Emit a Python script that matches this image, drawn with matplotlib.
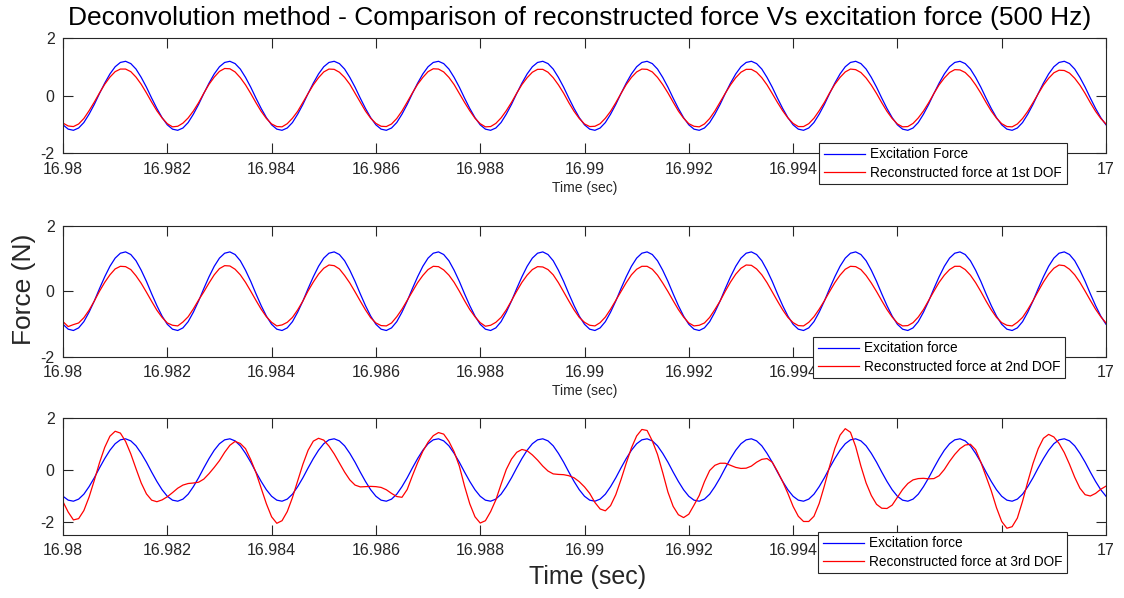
import numpy as np
import matplotlib
matplotlib.use("Agg")
import matplotlib.pyplot as plt

plt.rcParams['font.family'] = ['Liberation Sans', 'DejaVu Sans']
plt.rcParams['axes.unicode_minus'] = False

# sampled every 0.1 ms over the last 20 ms of the record
t = np.linspace(16.98, 17.0, 201)

# excitation force (N), one row per 2 ms cycle
excitation = (
    [-1.01, -1.16, -1.20, -1.12, -0.93, -0.64, -0.30, 0.08, 0.44, 0.76, 1.01, 1.16, 1.20, 1.12, 0.93, 0.64, 0.30, -0.08, -0.44, -0.76]
    + [-1.01, -1.16, -1.20, -1.12, -0.93, -0.64, -0.30, 0.08, 0.44, 0.76, 1.01, 1.16, 1.20, 1.12, 0.93, 0.64, 0.30, -0.08, -0.44, -0.76]
    + [-1.01, -1.16, -1.20, -1.12, -0.93, -0.64, -0.30, 0.08, 0.44, 0.76, 1.01, 1.16, 1.20, 1.12, 0.93, 0.64, 0.30, -0.08, -0.44, -0.76]
    + [-1.01, -1.16, -1.20, -1.12, -0.93, -0.64, -0.30, 0.08, 0.44, 0.76, 1.01, 1.16, 1.20, 1.12, 0.93, 0.64, 0.30, -0.08, -0.44, -0.76]
    + [-1.01, -1.16, -1.20, -1.12, -0.93, -0.64, -0.30, 0.08, 0.44, 0.76, 1.01, 1.16, 1.20, 1.12, 0.93, 0.64, 0.30, -0.08, -0.44, -0.76]
    + [-1.01, -1.16, -1.20, -1.12, -0.93, -0.64, -0.30, 0.08, 0.44, 0.76, 1.01, 1.16, 1.20, 1.12, 0.93, 0.64, 0.30, -0.08, -0.44, -0.76]
    + [-1.01, -1.16, -1.20, -1.12, -0.93, -0.64, -0.30, 0.08, 0.44, 0.76, 1.01, 1.16, 1.20, 1.12, 0.93, 0.64, 0.30, -0.08, -0.44, -0.76]
    + [-1.01, -1.16, -1.20, -1.12, -0.93, -0.64, -0.30, 0.08, 0.44, 0.76, 1.01, 1.16, 1.20, 1.12, 0.93, 0.64, 0.30, -0.08, -0.44, -0.76]
    + [-1.01, -1.16, -1.20, -1.12, -0.93, -0.64, -0.30, 0.08, 0.44, 0.76, 1.01, 1.16, 1.20, 1.12, 0.93, 0.64, 0.30, -0.08, -0.44, -0.76]
    + [-1.01, -1.16, -1.20, -1.12, -0.93, -0.64, -0.30, 0.08, 0.44, 0.76, 1.01, 1.16, 1.20, 1.12, 0.93, 0.64, 0.30, -0.08, -0.44, -0.76]
    + [-1.01]
)

# reconstructed force at 1st DOF (N)
recon_dof1 = (
    [-0.95, -1.05, -1.07, -0.98, -0.79, -0.52, -0.22, 0.10, 0.40, 0.65, 0.84, 0.93, 0.93, 0.84, 0.65, 0.40, 0.10, -0.22, -0.52, -0.77]
    + [-0.97, -1.08, -1.06, -0.95, -0.77, -0.53, -0.24, 0.09, 0.40, 0.65, 0.85, 0.95, 0.94, 0.83, 0.63, 0.38, 0.08, -0.24, -0.54, -0.79]
    + [-0.98, -1.07, -1.08, -0.97, -0.78, -0.54, -0.23, 0.08, 0.38, 0.63, 0.83, 0.93, 0.92, 0.82, 0.64, 0.40, 0.09, -0.22, -0.53, -0.78]
    + [-0.96, -1.06, -1.07, -0.98, -0.79, -0.53, -0.22, 0.10, 0.40, 0.64, 0.84, 0.94, 0.93, 0.83, 0.64, 0.39, 0.08, -0.23, -0.52, -0.78]
    + [-0.97, -1.08, -1.07, -0.96, -0.77, -0.52, -0.23, 0.09, 0.39, 0.63, 0.82, 0.92, 0.92, 0.82, 0.63, 0.38, 0.09, -0.24, -0.54, -0.79]
    + [-0.98, -1.07, -1.06, -0.97, -0.78, -0.54, -0.24, 0.08, 0.39, 0.64, 0.83, 0.93, 0.92, 0.83, 0.64, 0.39, 0.10, -0.22, -0.53, -0.78]
    + [-0.97, -1.06, -1.08, -0.98, -0.79, -0.53, -0.22, 0.09, 0.38, 0.63, 0.82, 0.92, 0.92, 0.82, 0.63, 0.38, 0.08, -0.23, -0.52, -0.77]
    + [-0.96, -1.07, -1.07, -0.97, -0.78, -0.52, -0.23, 0.10, 0.40, 0.64, 0.83, 0.93, 0.91, 0.81, 0.62, 0.37, 0.08, -0.24, -0.54, -0.79]
    + [-0.98, -1.08, -1.07, -0.96, -0.77, -0.53, -0.24, 0.08, 0.38, 0.62, 0.81, 0.91, 0.90, 0.81, 0.63, 0.38, 0.09, -0.23, -0.53, -0.78]
    + [-0.97, -1.07, -1.08, -0.98, -0.79, -0.54, -0.24, 0.07, 0.37, 0.61, 0.80, 0.89, 0.88, 0.79, 0.61, 0.37, 0.08, -0.24, -0.54, -0.79]
    + [-0.98]
)

# reconstructed force at 2nd DOF (N)
recon_dof2 = (
    [-0.93, -1.08, -1.02, -0.97, -0.81, -0.58, -0.30, 0.00, 0.27, 0.50, 0.68, 0.76, 0.75, 0.66, 0.47, 0.24, -0.03, -0.31, -0.58, -0.80]
    + [-0.97, -1.04, -1.06, -0.94, -0.78, -0.54, -0.27, -0.02, 0.25, 0.50, 0.69, 0.78, 0.77, 0.67, 0.50, 0.27, 0.00, -0.28, -0.55, -0.78]
    + [-0.95, -1.06, -1.03, -0.95, -0.80, -0.57, -0.30, 0.01, 0.28, 0.52, 0.70, 0.80, 0.78, 0.68, 0.48, 0.25, -0.02, -0.30, -0.57, -0.81]
    + [-0.97, -1.05, -1.06, -0.97, -0.78, -0.55, -0.28, -0.01, 0.26, 0.48, 0.66, 0.76, 0.75, 0.65, 0.49, 0.27, 0.00, -0.29, -0.56, -0.78]
    + [-0.96, -1.07, -1.04, -0.95, -0.80, -0.57, -0.29, 0.00, 0.27, 0.49, 0.66, 0.75, 0.74, 0.66, 0.50, 0.26, -0.02, -0.30, -0.57, -0.80]
    + [-0.95, -1.04, -1.06, -0.96, -0.79, -0.55, -0.28, -0.01, 0.26, 0.50, 0.67, 0.76, 0.76, 0.67, 0.49, 0.25, -0.01, -0.29, -0.56, -0.79]
    + [-0.97, -1.06, -1.04, -0.97, -0.80, -0.56, -0.30, 0.00, 0.28, 0.52, 0.70, 0.80, 0.79, 0.68, 0.50, 0.26, -0.02, -0.30, -0.57, -0.80]
    + [-0.96, -1.05, -1.06, -0.95, -0.78, -0.55, -0.29, -0.01, 0.26, 0.49, 0.67, 0.76, 0.75, 0.66, 0.48, 0.25, -0.01, -0.29, -0.56, -0.79]
    + [-0.97, -1.06, -1.05, -0.96, -0.79, -0.56, -0.28, 0.00, 0.27, 0.49, 0.66, 0.76, 0.76, 0.66, 0.49, 0.26, -0.01, -0.30, -0.57, -0.80]
    + [-0.96, -1.04, -1.06, -0.95, -0.80, -0.56, -0.29, 0.00, 0.28, 0.52, 0.70, 0.80, 0.78, 0.67, 0.50, 0.27, 0.00, -0.28, -0.55, -0.78]
    + [-0.97]
)

# reconstructed force at 3rd DOF (N)
recon_dof3 = (
    [-1.22, -1.62, -1.92, -1.87, -1.56, -1.04, -0.40, 0.28, 0.87, 1.30, 1.49, 1.42, 1.10, 0.62, 0.05, -0.50, -0.92, -1.16, -1.22, -1.15]
    + [-1.03, -0.87, -0.70, -0.58, -0.52, -0.50, -0.47, -0.35, -0.14, 0.10, 0.36, 0.68, 0.95, 1.10, 1.02, 0.82, 0.40, -0.10, -0.70, -1.30]
    + [-1.80, -2.05, -1.95, -1.60, -1.06, -0.42, 0.22, 0.76, 1.11, 1.22, 1.15, 0.92, 0.62, 0.27, -0.08, -0.38, -0.58, -0.65, -0.64, -0.63]
    + [-0.64, -0.67, -0.76, -0.90, -1.02, -1.05, -0.75, -0.22, 0.28, 0.72, 1.07, 1.32, 1.44, 1.38, 1.10, 0.70, 0.15, -0.62, -1.30, -1.80]
    + [-2.04, -1.95, -1.60, -1.15, -0.55, 0.02, 0.42, 0.68, 0.79, 0.74, 0.58, 0.38, 0.15, -0.04, -0.15, -0.17, -0.18, -0.22, -0.30, -0.45]
    + [-0.65, -0.90, -1.25, -1.50, -1.57, -1.37, -0.95, -0.37, 0.26, 0.85, 1.31, 1.56, 1.52, 1.12, 0.60, -0.10, -0.85, -1.40, -1.72, -1.83]
    + [-1.70, -1.35, -0.98, -0.45, -0.02, 0.18, 0.26, 0.26, 0.18, 0.10, 0.06, 0.07, 0.15, 0.30, 0.41, 0.44, 0.30, -0.05, -0.45, -0.90]
    + [-1.40, -1.78, -1.98, -1.98, -1.78, -1.29, -0.61, 0.14, 0.83, 1.34, 1.59, 1.45, 0.90, 0.15, -0.50, -0.98, -1.32, -1.47, -1.48, -1.35]
    + [-1.05, -0.75, -0.52, -0.38, -0.33, -0.32, -0.34, -0.33, -0.22, 0.02, 0.33, 0.60, 0.82, 0.96, 0.99, 0.78, 0.30, -0.25, -0.80, -1.45]
    + [-1.98, -2.24, -2.18, -1.85, -1.20, -0.45, 0.25, 0.82, 1.22, 1.37, 1.27, 1.02, 0.67, 0.22, -0.28, -0.70, -0.95, -1.00, -0.90, -0.74]
    + [-0.62]
)

xtick_vals = [16.98, 16.982, 16.984, 16.986, 16.988, 16.99, 16.992, 16.994, 16.996, 16.998, 17.0]
xtick_labels = ['16.98', '16.982', '16.984', '16.986', '16.988', '16.99',
                '16.992', '16.994', '16.996', '16.998', '17']

recon = [recon_dof1, recon_dof2, recon_dof3]
exc_names = ['Excitation Force', 'Excitation force', 'Excitation force']
rec_names = ['Reconstructed force at 1st DOF', 'Reconstructed force at 2nd DOF',
             'Reconstructed force at 3rd DOF']
ylims = [(-2, 2), (-2, 2), (-2.5, 2)]

W, H = 1124, 598
# axes boxes in pixels: left, top, right, bottom
boxes = [(63, 38.3, 1106, 153.3), (63, 225.7, 1106, 356.7), (63, 418, 1106, 535)]
legend_corners = [(819, 142.7), (813, 336.7), (818, 531.7)]

fig = plt.figure(figsize=(W / 100, H / 100), dpi=100)
dark = '#262626'

for i in range(3):
    l, tp, r, b = boxes[i]
    ax = fig.add_axes([l / W, 1 - b / H, (r - l) / W, (b - tp) / H])
    ax.plot(t, excitation, color='#0000ff', lw=0.9, label=exc_names[i])
    ax.plot(t, recon[i], color='#ff0000', lw=0.9, label=rec_names[i])
    ax.set_xlim(16.98, 17.0)
    ax.set_ylim(*ylims[i])
    ax.set_xticks(xtick_vals)
    ax.set_xticklabels(xtick_labels)
    ax.set_yticks([-2, 0, 2])
    ax.tick_params(direction='in', length=7, width=0.8, colors=dark,
                   labelsize=11.5, top=True, right=True, pad=6)
    for s in ax.spines.values():
        s.set_color(dark)
        s.set_linewidth(0.8)
    if i < 2:
        ax.set_xlabel('Time (sec)', fontsize=10, color=dark, labelpad=3)
    lx, ly = legend_corners[i]
    leg = ax.legend(loc='upper left', bbox_to_anchor=(lx / W, 1 - ly / H),
                    bbox_transform=fig.transFigure, borderaxespad=0,
                    fontsize=9.8, handlelength=3.0, handletextpad=0.4,
                    labelspacing=0.3, borderpad=0.35, fancybox=False,
                    framealpha=1)
    leg.get_frame().set_edgecolor(dark)
    leg.get_frame().set_linewidth(0.8)

fig.text(580 / W, 1 - 18 / H,
         'Deconvolution method - Comparison of reconstructed force Vs excitation force (500 Hz)',
         ha='center', va='center', fontsize=19, color='black')
fig.text(588 / W, 1 - 577 / H, 'Time (sec)', ha='center', va='center',
         fontsize=18, color=dark)
fig.text(24 / W, 1 - 289 / H, 'Force (N)', ha='center', va='center',
         rotation=90, fontsize=19, color=dark)

fig.savefig('out.png', dpi=100)
